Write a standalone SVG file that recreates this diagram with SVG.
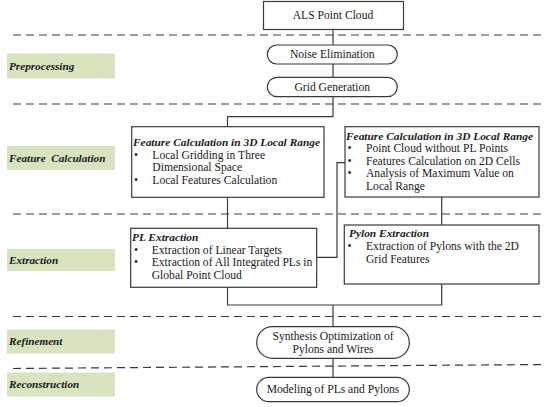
<svg xmlns="http://www.w3.org/2000/svg" width="550" height="407" viewBox="0 0 550 407">
<style>
.bg{fill:#ffffff}
.box{fill:#ffffff;stroke:#3a3a3a;stroke-width:1.2}
.lab{fill:#d8e4bf;stroke:none}
.dash{stroke:#3a3a3a;stroke-width:1.2;stroke-dasharray:8 5;fill:none}
.con{stroke:#3a3a3a;stroke-width:1.2;fill:none}
text{font-family:"Liberation Serif","DejaVu Serif",serif;font-size:11.6px;fill:#1a1a1a}
.c{text-anchor:middle}
.h{font-style:italic;font-weight:bold;font-size:11.4px}
.l{font-style:italic;font-weight:bold;font-size:11.2px}
</style>
<rect class="bg" x="0" y="0" width="550" height="407"/>
<g id="phases">
<line class="dash" x1="13" y1="35" x2="545" y2="35"/>
<line class="dash" x1="13" y1="104" x2="545" y2="104"/>
<line class="dash" x1="13" y1="214" x2="545" y2="214"/>
<line class="dash" x1="13" y1="316.5" x2="545" y2="316.5"/>
<line class="dash" x1="13" y1="368.5" x2="545" y2="364.5"/>
</g>
<g id="label-preprocessing"><rect class="lab" x="7" y="53.5" width="108" height="25"/><text class="l" x="9" y="70">Preprocessing</text></g>
<g id="label-feature"><rect class="lab" x="7" y="146" width="108" height="24"/><text class="l" x="9" y="162" xml:space="preserve">Feature  Calculation</text></g>
<g id="label-extraction"><rect class="lab" x="7" y="249" width="108" height="22"/><text class="l" x="9" y="264">Extraction</text></g>
<g id="label-refinement"><rect class="lab" x="7" y="329.5" width="108" height="24"/><text class="l" x="9" y="345">Refinement</text></g>
<g id="label-reconstruction"><rect class="lab" x="7" y="372.5" width="108" height="24"/><text class="l" x="9" y="388">Reconstruction</text></g>
<g id="connectors">
<line class="con" x1="333" y1="29.5" x2="333" y2="45"/>
<line class="con" x1="333" y1="64" x2="333" y2="77.3"/>
<polyline class="con" points="333,96.7 333,116.7 227.5,116.7 227.5,126.7"/>
<line class="con" x1="227.5" y1="197.3" x2="227.5" y2="228.3"/>
<polyline class="con" points="316.7,257.3 337,257.3 337,162.7 345,162.7"/>
<line class="con" x1="441.7" y1="197" x2="441.7" y2="225"/>
<polyline class="con" points="227.5,287.3 227.5,305 441.7,305 441.7,284"/>
<line class="con" x1="333" y1="305" x2="333" y2="326.7"/>
<line class="con" x1="333" y1="358.3" x2="333" y2="377.3"/>
</g>
<g id="als"><rect class="box" x="263.5" y="1.5" width="140" height="28"/><text class="c" x="333" y="18.5">ALS Point Cloud</text></g>
<g id="noise"><rect class="box" x="267.3" y="45" width="130" height="19" rx="9.5"/><text class="c" x="332.3" y="58">Noise Elimination</text></g>
<g id="grid"><rect class="box" x="267.3" y="77.3" width="130" height="19.4" rx="9.7"/><text class="c" x="332.3" y="90.5">Grid Generation</text></g>
<g id="fc-left"><rect class="box" x="131.7" y="126.7" width="192.3" height="70.6"/>
<text class="h" x="133" y="146">Feature Calculation in 3D Local Range</text>
<text x="134" y="158.5">•</text><text x="152.3" y="158.5">Local Gridding in Three</text>
<text x="152.3" y="171">Dimensional Space</text>
<text x="134" y="184">•</text><text x="152.3" y="184">Local Features Calculation</text>
</g>
<g id="fc-right"><rect class="box" x="345" y="126.7" width="194" height="70.3"/>
<text class="h" x="346" y="139.5">Feature Calculation in 3D Local Range</text>
<text x="347.5" y="152">•</text><text x="366" y="152">Point Cloud without PL Points</text>
<text x="347.5" y="164.5">•</text><text x="366" y="164.5">Features Calculation on 2D Cells</text>
<text x="347.5" y="177">•</text><text x="366" y="177">Analysis of Maximum Value on</text>
<text x="366" y="189.5">Local Range</text>
</g>
<g id="pl-extraction"><rect class="box" x="130.7" y="228.3" width="186" height="59"/>
<text class="h" x="132" y="241">PL Extraction</text>
<text x="134" y="253.5">•</text><text x="151.7" y="253.5">Extraction of Linear Targets</text>
<text x="134" y="266">•</text><text x="151.7" y="266">Extraction of All Integrated PLs in</text>
<text x="151.7" y="279">Global Point Cloud</text>
</g>
<g id="pylon-extraction"><rect class="box" x="344.3" y="225" width="194.7" height="59"/>
<text class="h" x="349" y="237">Pylon Extraction</text>
<text x="347.5" y="250">•</text><text x="366" y="250">Extraction of Pylons with the 2D</text>
<text x="366" y="263">Grid Features</text>
</g>
<g id="synthesis"><rect class="box" x="256.7" y="326.7" width="152.6" height="31.6" rx="15.8"/>
<text class="c" x="333" y="339.5">Synthesis Optimization of</text>
<text class="c" x="333" y="353">Pylons and Wires</text>
</g>
<g id="modeling"><rect class="box" x="256.7" y="377.3" width="152.6" height="24.4" rx="12.2"/>
<text class="c" x="333" y="393">Modeling of PLs and Pylons</text>
</g>
</svg>
